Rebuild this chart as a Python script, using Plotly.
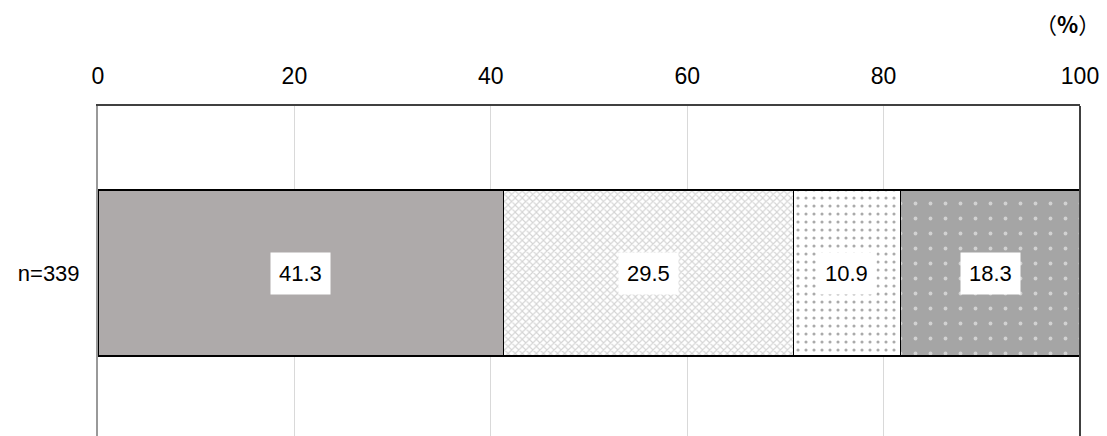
import plotly.graph_objects as go

categories = ["n=339"]
values = [41.3, 29.5, 10.9, 18.3]
x_ticks = [0, 20, 40, 60, 80, 100]

FONT = "Liberation Sans, Arial, Noto Sans CJK JP"

styles = [
    dict(color="#aeaaaa", pattern=None),
    dict(color="#ffffff", pattern=dict(shape="x", bgcolor="#ffffff", fgcolor="#aaaaaa", size=5, solidity=0.4, fillmode="overlay")),
    dict(color="#ffffff", pattern=dict(shape=".", bgcolor="#ffffff", fgcolor="#555555", size=8, solidity=0.12, fillmode="overlay")),
    dict(color="#a5a5a5", pattern=dict(shape=".", bgcolor="#a5a5a5", fgcolor="#ffffff", size=15, solidity=0.05, fillmode="overlay")),
]

fig = go.Figure()
for v, st in zip(values, styles):
    marker = dict(color=st["color"], line=dict(color="#000000", width=1.2))
    if st["pattern"]:
        marker["pattern"] = st["pattern"]
    fig.add_trace(go.Bar(
        x=[v], y=[0], orientation="h", width=0.497,
        marker=marker, showlegend=False, hoverinfo="skip",
    ))

cum = 0
for v in values:
    fig.add_annotation(
        x=cum + v / 2, y=0, text=f"{v:.1f}", showarrow=False,
        bgcolor="#ffffff", borderpad=8,
        font=dict(family=FONT, size=22, color="#000000"),
    )
    cum += v

fig.add_annotation(
    xref="paper", yref="paper", x=1.0, y=1.0, xshift=22, yshift=83, xanchor="right", yanchor="middle",
    text="（<b>%</b>）", showarrow=False, font=dict(family="Noto Sans CJK JP", size=22, color="#000000"),
)

fig.add_shape(type="line", xref="paper", yref="paper", x0=1, x1=1, y0=0, y1=1,
              line=dict(color="#404040", width=2))

fig.update_layout(
    width=1099, height=428,
    margin=dict(l=90, r=27, t=98, b=0),
    barmode="stack",
    plot_bgcolor="#ffffff", paper_bgcolor="#ffffff",
    font=dict(family=FONT, size=22, color="#000000"),
    xaxis=dict(
        side="top", range=[0, 100], tickvals=x_ticks, ticktext=[str(t) for t in x_ticks],
        showgrid=True, gridcolor="#d9d9d9", gridwidth=1,
        showline=True, linecolor="#404040", linewidth=2,
        ticks="", ticklabelstandoff=11, zeroline=False,
        tickfont=dict(size=23),
    ),
    yaxis=dict(
        range=[-0.488, 0.5], tickvals=[0], ticktext=categories,
        showline=True, linecolor="#999999", linewidth=2,
        showgrid=False, zeroline=False, ticks="", ticklabelstandoff=12,
        tickfont=dict(size=22),
    ),
)

fig.write_html("out.html")
